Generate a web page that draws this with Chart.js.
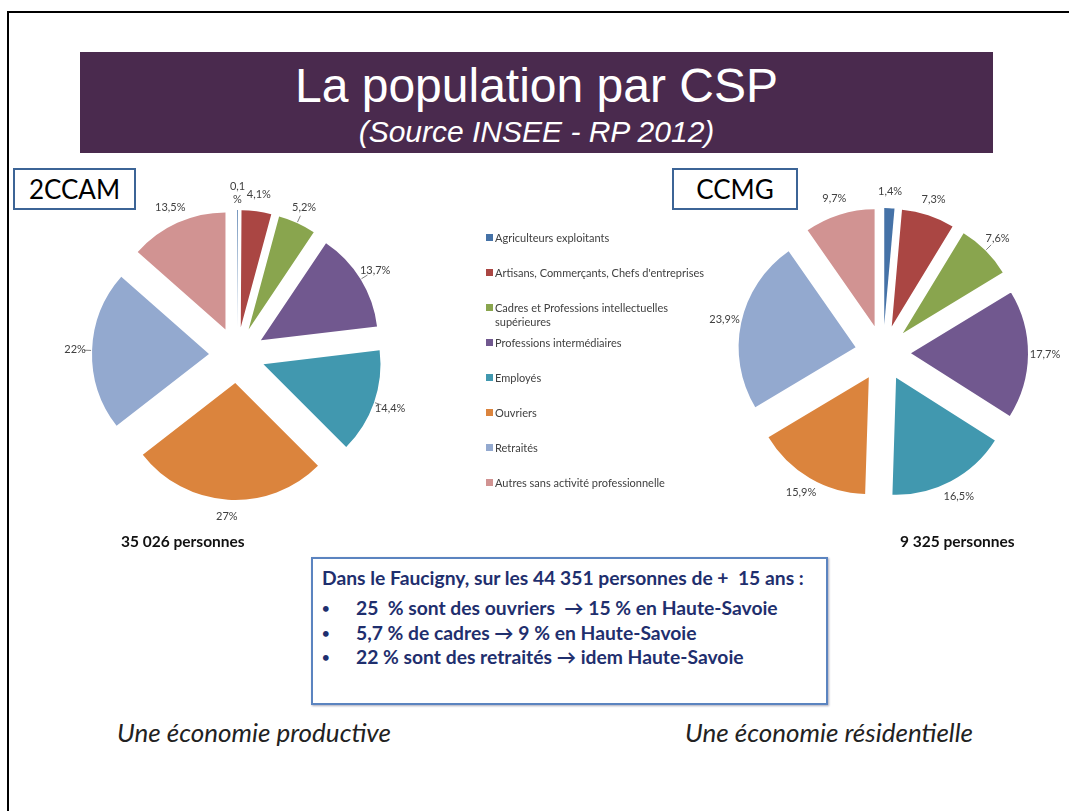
<!DOCTYPE html>
<html lang="fr">
<head>
<meta charset="utf-8">
<title>La population par CSP</title>
<script src="https://cdn.jsdelivr.net/npm/chart.js@4/dist/chart.umd.min.js"></script>
<style>
    body { margin: 0; background: #fff; font-family: Lato, "Open Sans", sans-serif; }
    #slide { position: relative; width: 1069px; height: 811px; overflow: hidden; }
    .frame { position: absolute; left: 7px; top: 11px; width: 1100px; height: 900px; border: 2.5px solid #000; }
    .banner { position: absolute; left: 80px; top: 52px; width: 913px; height: 101px; background: #4a2a4e; color: #fff; text-align: center; font-family: "Liberation Sans", Arial, sans-serif; }
    .banner h1 { margin: 0; padding-top: 8px; font-size: 48px; font-weight: normal; line-height: 52px; }
    .banner h2 { margin: 3px 0 0 0; font-size: 30px; font-style: italic; font-weight: normal; line-height: 34px; }
    .tag { position: absolute; top: 168px; height: 38px; border: 2px solid #3c6496; background: #fff; font-size: 26px; line-height: 38px; text-align: center; color: #000; z-index: 2; }
    canvas { position: absolute; }
    #legend { position: absolute; left: 486px; top: 231px; font-size: 11px; color: #404040; }
    .item { position: absolute; left: 0; width: 212px; padding-left: 9px; line-height: 14px; }
    .item i { position: absolute; left: 0; top: 3px; width: 7px; height: 7px; }
    .total { position: absolute; top: 532px; font-weight: bold; font-size: 15.5px; color: #111; }
    .box { position: absolute; left: 311px; top: 557px; width: 513px; height: 144px; border: 2px solid #5b84c0; box-shadow: 1px 1px 2px #aab; color: #1f2f6e; font-weight: bold; font-size: 19.3px; }
    .box p { margin: 7px 0 0 9px; }
    .box ul { margin: 7px 0 0 0; padding: 0; list-style: none; }
    .box li { position: relative; padding-left: 43px; line-height: 24.5px; }
    .box li:before { content: "\2022"; position: absolute; left: 9px; font-size: 13px; }
    .caption { position: absolute; top: 716px; font-style: italic; font-size: 26px; color: #222; }
</style>
</head>
<body>
<div id="slide">
    <div class="frame"></div>
    <div class="banner">
        <h1>La population par CSP</h1>
        <h2>(Source INSEE - RP 2012)</h2>
    </div>
    <div class="tag" style="left:13px;width:119px;">2CCAM</div>
    <div class="tag" style="left:672px;width:122px;">CCMG</div>

    <canvas id="pieLeft" width="360" height="360" style="left:57px;top:175px;"></canvas>
    <canvas id="pieRight" width="360" height="360" style="left:703px;top:173px;"></canvas>

    <div id="legend"></div>

    <div class="total" style="left:121px;">35 026 personnes</div>
    <div class="total" style="left:900px;">9 325 personnes</div>

    <div class="box">
        <p>Dans le Faucigny, sur les 44 351 personnes de +&nbsp; 15 ans :</p>
        <ul>
            <li>25&nbsp; % sont des ouvriers&nbsp; &rarr; 15 % en Haute-Savoie</li>
            <li>5,7 % de cadres &rarr; 9 % en Haute-Savoie</li>
            <li>22 % sont des retraités &rarr; idem Haute-Savoie</li>
        </ul>
    </div>

    <div class="caption" style="left:117px;">Une économie productive</div>
    <div class="caption" style="left:685px;">Une économie résidentielle</div>
</div>

<script>
// Catégories socio-professionnelles (RP 2012)
const categories = [
    'Agriculteurs exploitants',
    'Artisans, Commerçants, Chefs d\'entreprises',
    'Cadres et Professions intellectuelles supérieures',
    'Professions intermédiaires',
    'Employés',
    'Ouvriers',
    'Retraités',
    'Autres sans activité professionnelle'
];

// Part en % pour chaque territoire
const values2CCAM = [0.1, 4.1, 5.2, 13.7, 14.4, 27, 22, 13.5];
const valuesCCMG = [1.4, 7.3, 7.6, 17.7, 16.5, 15.9, 23.9, 9.7];

const colors = ['#4572a7', '#aa4643', '#89a54e', '#71588f', '#4198af', '#db843d', '#93a9cf', '#d19392'];

//Légende commune au milieu
const legend = document.getElementById('legend');
categories.forEach(function (label, i) {
    let item = document.createElement('div');
    item.className = 'item';
    item.style.top = (i * 35) + 'px';
    item.innerHTML = '<i style="background:' + colors[i] + '"></i>' + label;
    legend.appendChild(item);
});

function formatValue(v) {
    return String(v).replace('.', ',');
}

//Plugin : secteurs éclatés comme dans Excel
const explodePlugin = {
    id: 'explode',
    beforeDatasetDraw(chart, args, opts) {
        const ctx = chart.ctx;
        args.meta.data.forEach(function (arc) {
            const mid = (arc.startAngle + arc.endAngle) / 2;
            ctx.save();
            ctx.translate(Math.cos(mid) * opts.distance, Math.sin(mid) * opts.distance);
            arc.draw(ctx);
            ctx.restore();
        });
        return false;
    },
    afterDraw(chart, args, opts) {
        const ctx = chart.ctx;
        const data = chart.data.datasets[0].data;
        ctx.save();
        ctx.font = '11px Lato, sans-serif';
        ctx.fillStyle = '#404040';
        ctx.strokeStyle = '#808080';
        ctx.lineWidth = 1;
        ctx.textAlign = 'center';
        ctx.textBaseline = 'middle';
        chart.getDatasetMeta(0).data.forEach(function (arc, i) {
            const mid = (arc.startAngle + arc.endAngle) / 2;
            const cos = Math.cos(mid), sin = Math.sin(mid);
            const edge = arc.outerRadius + opts.distance;
            if (opts.leaders.includes(i)) {
                ctx.beginPath();
                ctx.moveTo(arc.x + cos * (edge + 1), arc.y + sin * (edge + 1));
                ctx.lineTo(arc.x + cos * (edge + 8), arc.y + sin * (edge + 8));
                ctx.stroke();
            }
            const lx = arc.x + cos * (edge + opts.labelGap);
            const ly = arc.y + sin * (edge + opts.labelGap);
            if (data[i] < 1) {
                ctx.fillText(formatValue(data[i]), lx, ly - 7);
                ctx.fillText('%', lx, ly + 6);
            } else {
                ctx.fillText(formatValue(data[i]) + '%', lx, ly);
            }
        });
        ctx.restore();
    }
};

function makePie(selector, values, leaders) {
    return new Chart(document.querySelector(selector), {
        type: 'pie',
        data: {
            labels: categories,
            datasets: [{
                data: values,
                backgroundColor: colors,
                borderWidth: 0
            }]
        },
        options: {
            responsive: false,
            animation: false,
            events: [],
            radius: 117,
            layout: { padding: 0 },
            plugins: {
                legend: { display: false },
                tooltip: { enabled: false },
                explode: { distance: 28, labelGap: 17, leaders: leaders }
            }
        },
        plugins: [explodePlugin]
    });
}

makePie('#pieLeft', values2CCAM, [2, 3, 4, 6]);
makePie('#pieRight', valuesCCMG, [2]);
</script>
</body>
</html>
